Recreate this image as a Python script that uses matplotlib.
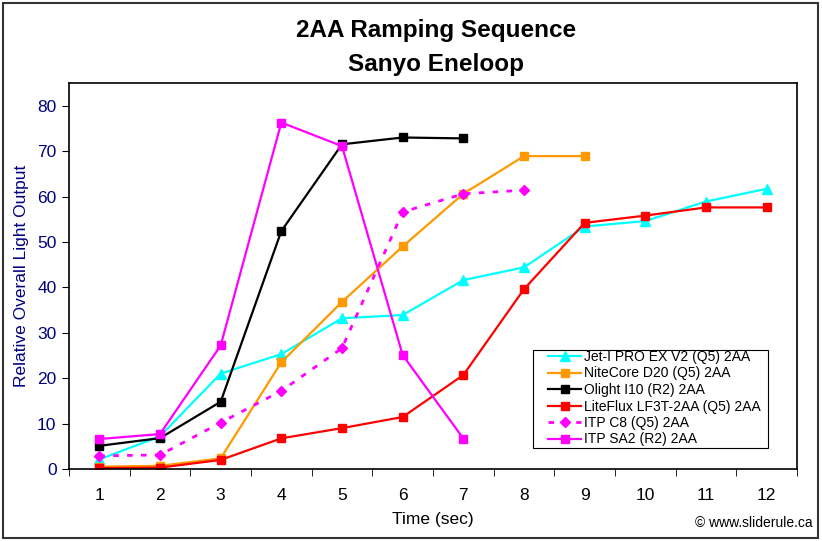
import matplotlib.pyplot as plt
from matplotlib.patches import Rectangle

plt.rcParams['font.family'] = ['Liberation Sans', 'DejaVu Sans']

# data
jet_x = [1, 2, 3, 4, 5, 6, 7, 8, 9, 10, 11, 12]
jet_y = [2.1, 7.2, 21.0, 25.3, 33.2, 33.9, 41.6, 44.4, 53.4, 54.6, 58.9, 61.7]

nite_x = [1, 2, 3, 4, 5, 6, 7, 8, 9]
nite_y = [0.5, 0.7, 2.35, 23.5, 36.8, 49.0, 60.6, 68.9, 68.9]

olight_x = [1, 2, 3, 4, 5, 6, 7]
olight_y = [5.1, 6.8, 14.8, 52.4, 71.5, 73.0, 72.8]

lite_x = [1, 2, 3, 4, 5, 6, 7, 8, 9, 10, 11, 12]
lite_y = [0.2, 0.3, 2.0, 6.75, 9.0, 11.45, 20.7, 39.6, 54.2, 55.8, 57.6, 57.6]

c8_x = [1, 2, 3, 4, 5, 6, 7, 8]
c8_y = [2.9, 3.1, 10.2, 17.2, 26.6, 56.6, 60.6, 61.4]

sa2_x = [1, 2, 3, 4, 5, 6, 7]
sa2_y = [6.6, 7.7, 27.2, 76.3, 71.1, 25.1, 6.7]

labels = ["Jet-I PRO EX V2 (Q5) 2AA", "NiteCore D20 (Q5) 2AA", "Olight I10 (R2) 2AA",
          "LiteFlux LF3T-2AA (Q5) 2AA", "ITP C8 (Q5) 2AA", "ITP SA2 (R2) 2AA"]
xticks = list(range(1, 13))
yticks = list(range(0, 90, 10))

W, H = 822, 541
fig = plt.figure(figsize=(W / 100, H / 100), dpi=100)
ax = fig.add_axes([69 / W, 1 - 469 / H, (797 - 69) / W, (469 - 83) / H])

lw = 1.6
ms = 6
ax.plot(jet_x, jet_y, color="#00FFFF", lw=lw, marker="^", ms=ms + 1, label=labels[0])
ax.plot(nite_x, nite_y, color="#FF9900", lw=lw, marker="s", ms=ms, label=labels[1])
ax.plot(olight_x, olight_y, color="black", lw=lw, marker="s", ms=ms, label=labels[2])
ax.plot(lite_x, lite_y, color="#FF0000", lw=lw, marker="s", ms=ms, label=labels[3])
ax.plot(c8_x, c8_y, color="#FF00FF", lw=lw + 0.4, ls=(0, (2, 3)), marker="D", ms=ms - 1, label=labels[4])
ax.plot(sa2_x, sa2_y, color="#FF00FF", lw=lw, marker="s", ms=ms, label=labels[5])

ax.set_xlim(0.5, 12.5)
ax.set_ylim(0, 85)
ax.set_xticks(xticks)
ax.set_yticks(yticks)
ax.set_xticks([x + 0.5 for x in range(0, 13)], minor=True)
ax.tick_params(axis="x", which="major", length=0, pad=14, labelsize=12.5, labelcolor="black")
ax.tick_params(axis="x", which="minor", length=5, direction="out")
ax.tick_params(axis="y", length=5, direction="out", labelsize=12.5, labelcolor="#000080", pad=4)
for s in ax.spines.values():
    s.set_linewidth(1.2)

ax.set_xlabel("Time (sec)", fontsize=12.5, labelpad=6)
ax.set_ylabel("Relative Overall Light Output", fontsize=12.5, color="#000080", labelpad=6)

fig.text(0.531, 1 - 30 / H, "2AA Ramping Sequence", ha="center", va="center",
         fontsize=17.5, fontweight="bold")
fig.text(0.531, 1 - 65 / H, "Sanyo Eneloop", ha="center", va="center",
         fontsize=17.5, fontweight="bold")
fig.text(813 / W, 1 - 523 / H, "\u00a9 www.sliderule.ca", ha="right", va="center", fontsize=10)

# legend without its own frame; the box is drawn separately
leg = ax.legend(loc="upper left", bbox_to_anchor=(548 / W, 1 - 350 / H),
                bbox_transform=fig.transFigure, fontsize=10, frameon=False,
                handlelength=2.4, handletextpad=0.2, labelspacing=0.18, borderpad=0,
                borderaxespad=0)
fig.patches.append(Rectangle((533 / W, 1 - 448 / H), (768 - 533) / W, (448 - 350) / H,
                             transform=fig.transFigure, fill=False, edgecolor="black",
                             lw=0.8, zorder=5))

fig.patches.append(Rectangle((3 / W, 3 / H), 815 / W, 535 / H, transform=fig.transFigure,
                             fill=False, edgecolor="#333333", lw=1.5))

fig.savefig("out.png", dpi=100)
